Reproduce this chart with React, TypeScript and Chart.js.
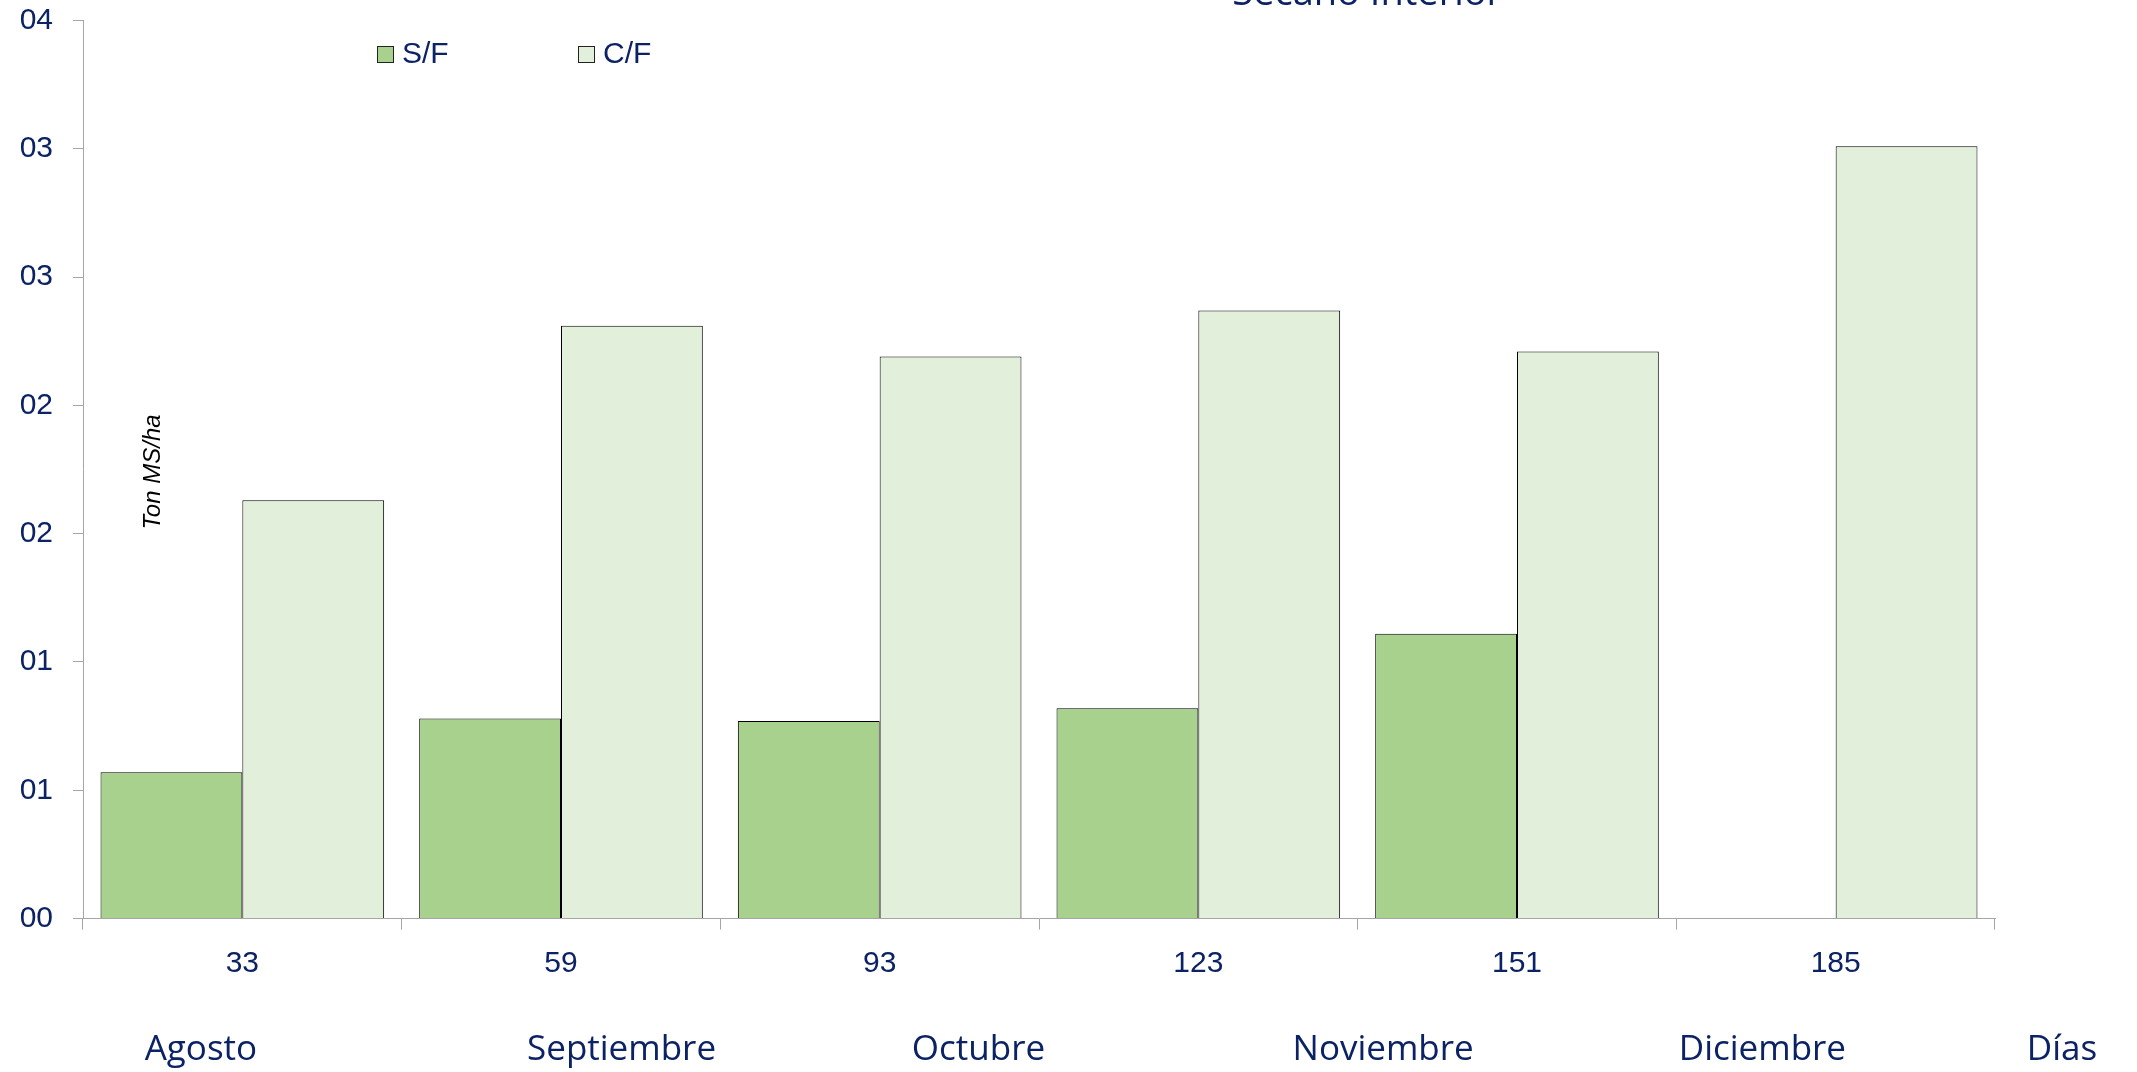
import React, { useEffect, useRef } from "react";
import { Chart, registerables } from "chart.js";

Chart.register(...registerables);

const days = ["33", "59", "93", "123", "151", "185"];
const seriesNames = ["S/F", "C/F"];
const sinFertilizacion = [0.57, 0.78, 0.77, 0.82, 1.11, null];
const conFertilizacion = [1.63, 2.31, 2.19, 2.37, 2.21, 3.01];
const months = ["Agosto", "Septiembre", "Octubre", "Noviembre", "Diciembre", "Días"];
const yTitle = "Ton MS/ha";
const chartTitle = "Secano Interior";

// where each month caption sits, in category units along the x scale
const monthAnchors = [-0.13, 1.19, 2.31, 3.58, 4.77, 5.71];

const NAVY = "#0B2265";
const AXIS = "#A6A6A6";
const BORDER = "#000000";
const SANS = '"Liberation Sans", Arial, sans-serif';
const OPEN = '"Open Sans", "Liberation Sans", sans-serif';

const extras = {
  id: "extras",
  afterDraw(chart: any) {
    const { ctx, chartArea } = chart;
    const x = chart.scales.x;
    ctx.save();

    // title (mostly cut off at the top)
    ctx.fillStyle = NAVY;
    ctx.font = `38px ${OPEN}`;
    ctx.textAlign = "center";
    ctx.textBaseline = "alphabetic";
    ctx.fillText(chartTitle, x.getPixelForValue(3.53), 5);

    // legend
    ctx.font = `30px ${SANS}`;
    ctx.textBaseline = "middle";
    ctx.textAlign = "left";
    const legendX = [chartArea.left + 294, chartArea.left + 495];
    chart.data.datasets.forEach((ds: any, i: number) => {
      const bx = legendX[i];
      ctx.fillStyle = ds.backgroundColor;
      ctx.fillRect(bx, 46, 17, 17);
      ctx.strokeStyle = "#222222";
      ctx.lineWidth = 1;
      ctx.strokeRect(bx + 0.5, 46.5, 16, 16);
      ctx.fillStyle = NAVY;
      ctx.fillText(ds.label, bx + 25, 55);
    });

    // y axis title, rotated
    ctx.save();
    ctx.translate(chartArea.left + 70, 472);
    ctx.rotate(-Math.PI / 2);
    ctx.fillStyle = "#000000";
    ctx.font = `italic 24px ${SANS}`;
    ctx.textAlign = "center";
    ctx.textBaseline = "middle";
    ctx.fillText(yTitle, 0, 0);
    ctx.restore();

    // month captions
    ctx.fillStyle = NAVY;
    ctx.font = `35px ${OPEN}`;
    ctx.textAlign = "center";
    ctx.textBaseline = "middle";
    months.forEach((m, i) => {
      ctx.fillText(m, x.getPixelForValue(monthAnchors[i]), 1050);
    });

    ctx.restore();
  },
};

export default function App() {
  const ref = useRef<HTMLCanvasElement | null>(null);

  useEffect(() => {
    document.body.style.margin = "0";
    document.body.style.overflow = "hidden";
    const canvas = ref.current;
    if (!canvas) return;
    const chart = new Chart(canvas, {
      type: "bar",
      data: {
        labels: days,
        datasets: [
          {
            label: seriesNames[0],
            data: sinFertilizacion,
            backgroundColor: "#A9D18E",
            borderColor: BORDER,
            borderWidth: 1,
          },
          {
            label: seriesNames[1],
            data: conFertilizacion,
            backgroundColor: "#E2EFDA",
            borderColor: BORDER,
            borderWidth: 1,
          },
        ],
      },
      options: {
        responsive: false,
        animation: false,
        devicePixelRatio: 1,
        layout: { padding: { top: 20.4, right: 142, left: 0, bottom: 0 } },
        datasets: {
          bar: { categoryPercentage: 0.89, barPercentage: 1 },
        },
        plugins: {
          legend: { display: false },
          title: { display: false },
          tooltip: { enabled: false },
        },
        scales: {
          x: {
            grid: {
              display: true,
              drawOnChartArea: false,
              drawTicks: true,
              tickLength: 11,
              color: AXIS,
              offset: true,
            },
            border: { display: true, color: AXIS, width: 1 },
            ticks: {
              color: NAVY,
              font: { family: SANS, size: 30 },
              padding: 16,
              maxRotation: 0,
            },
            afterFit(scale: any) {
              scale.height = 153.4;
              scale.paddingLeft = 0;
              scale.paddingRight = 0;
            },
          },
          y: {
            min: 0,
            max: 3.5,
            grid: {
              display: true,
              drawOnChartArea: false,
              drawTicks: true,
              tickLength: 10,
              color: AXIS,
            },
            border: { display: true, color: AXIS, width: 1 },
            ticks: {
              stepSize: 0.5,
              color: NAVY,
              font: { family: SANS, size: 30 },
              padding: 20,
              callback: (v: any) => String(Math.round(Number(v))).padStart(2, "0"),
            },
            afterFit(scale: any) {
              scale.width = 83;
              scale.paddingTop = 0;
              scale.paddingBottom = 0;
            },
          },
        },
      },
      plugins: [extras],
    });
    return () => chart.destroy();
  }, []);

  return (
    <div style={{ width: 2137, height: 1072, background: "#ffffff" }}>
      <canvas ref={ref} width={2137} height={1072} style={{ display: "block" }} />
    </div>
  );
}
